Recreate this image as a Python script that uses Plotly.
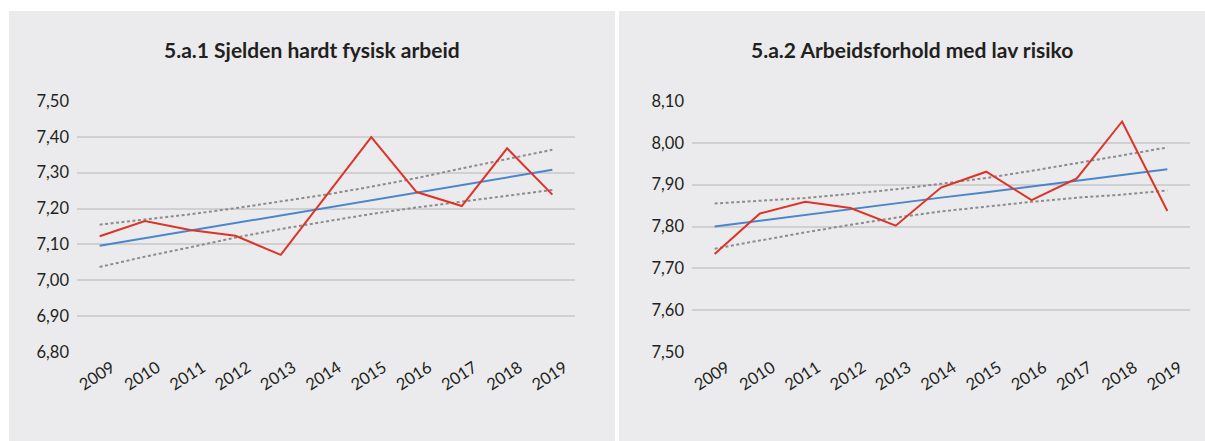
import plotly.graph_objects as go

years = ["2009", "2010", "2011", "2012", "2013", "2014", "2015", "2016", "2017", "2018", "2019"]

# Panel 1: 5.a.1 Sjelden hardt fysisk arbeid
p1_title = "5.a.1 Sjelden hardt fysisk arbeid"
p1_values = [7.123, 7.165, 7.140, 7.124, 7.071, 7.236, 7.399, 7.246, 7.207, 7.368, 7.239]
p1_trend = [7.096, 7.117, 7.138, 7.160, 7.181, 7.202, 7.223, 7.244, 7.266, 7.287, 7.308]
p1_upper = [7.155, 7.169, 7.184, 7.201, 7.219, 7.239, 7.261, 7.285, 7.312, 7.339, 7.364]
p1_lower = [7.037, 7.066, 7.092, 7.119, 7.143, 7.165, 7.185, 7.203, 7.220, 7.236, 7.252]
p1_ticks = [6.80, 6.90, 7.00, 7.10, 7.20, 7.30, 7.40, 7.50]

# Panel 2: 5.a.2 Arbeidsforhold med lav risiko
p2_title = "5.a.2 Arbeidsforhold med lav risiko"
p2_values = [7.734, 7.831, 7.859, 7.844, 7.802, 7.893, 7.931, 7.863, 7.915, 8.051, 7.837]
p2_trend = [7.800, 7.814, 7.827, 7.841, 7.855, 7.869, 7.882, 7.896, 7.910, 7.923, 7.937]
p2_upper = [7.855, 7.861, 7.868, 7.878, 7.889, 7.902, 7.916, 7.933, 7.951, 7.970, 7.989]
p2_lower = [7.747, 7.767, 7.786, 7.804, 7.821, 7.836, 7.848, 7.859, 7.869, 7.876, 7.886]
p2_ticks = [7.50, 7.60, 7.70, 7.80, 7.90, 8.00, 8.10]

W, H = 1205, 441
BG = "#ebebed"
GRID = "#d0d0d3"
TXT = "#231f20"
RED = "#dc3427"
BLUE = "#4a86c9"
DOT = "#8c8c8e"
FONT = "Lato"

fig = go.Figure()

def add_panel(xa, ya, vals, trend, up, lo):
    for s in (up, lo):
        fig.add_trace(go.Scatter(x=years, y=s, mode="lines", xaxis=xa, yaxis=ya,
                                 line=dict(color=DOT, width=2, dash="3px,2.5px"),
                                 showlegend=False, hoverinfo="skip"))
    fig.add_trace(go.Scatter(x=years, y=trend, mode="lines", xaxis=xa, yaxis=ya,
                             line=dict(color=BLUE, width=2), showlegend=False))
    fig.add_trace(go.Scatter(x=years, y=vals, mode="lines", xaxis=xa, yaxis=ya,
                             line=dict(color=RED, width=2), showlegend=False))

add_panel("x", "y", p1_values, p1_trend, p1_upper, p1_lower)
add_panel("x2", "y2", p2_values, p2_trend, p2_upper, p2_lower)

def px_x(v):
    return v / W

def px_y(v):
    return 1 - v / H

xcommon = dict(type="category", range=[-0.5, 10.5], tickangle=-33, showgrid=False,
               zeroline=False, ticks="", tickfont=dict(family=FONT, size=16.5, color=TXT),
               ticklabelshift=12, ticklabelstandoff=2, automargin=False,
               showline=False, fixedrange=True)
ycommon = dict(showgrid=True, gridcolor=GRID, gridwidth=1.5, zeroline=False,
               ticks="", tickformat=".2f", tickfont=dict(family=FONT, size=16.5, color=TXT),
               showline=False, ticklabelstandoff=7, automargin=False, fixedrange=True)

fig.update_layout(
    template="none",
    width=W, height=H,
    margin=dict(l=0, r=0, t=0, b=0, pad=0),
    paper_bgcolor="white",
    plot_bgcolor="rgba(0,0,0,0)",
    separators=", ",
    showlegend=False,
    xaxis=dict(domain=[px_x(77), px_x(575)], anchor="y", **xcommon),
    yaxis=dict(domain=[px_y(352), px_y(101)], anchor="x", range=[6.80, 7.50],
               tickvals=p1_ticks, **ycommon),
    xaxis2=dict(domain=[px_x(692), px_x(1190)], anchor="y2", **xcommon),
    yaxis2=dict(domain=[px_y(352), px_y(101)], anchor="x2", range=[7.50, 8.10],
                tickvals=p2_ticks, **ycommon),
    shapes=[
        dict(type="rect", xref="paper", yref="paper", x0=px_x(9), x1=px_x(615),
             y0=0, y1=px_y(11), fillcolor=BG, line=dict(width=0), layer="below"),
        dict(type="rect", xref="paper", yref="paper", x0=px_x(619), x1=1,
             y0=0, y1=px_y(11), fillcolor=BG, line=dict(width=0), layer="below"),
    ],
    annotations=[
        dict(text="<b>" + p1_title + "</b>", xref="paper", yref="paper",
             x=px_x(312), y=px_y(49), xanchor="center", yanchor="middle", showarrow=False,
             font=dict(family=FONT, size=21, color=TXT)),
        dict(text="<b>" + p2_title + "</b>", xref="paper", yref="paper",
             x=px_x(912), y=px_y(49), xanchor="center", yanchor="middle", showarrow=False,
             font=dict(family=FONT, size=21, color=TXT)),
    ],
)

fig.write_html("out.html")
